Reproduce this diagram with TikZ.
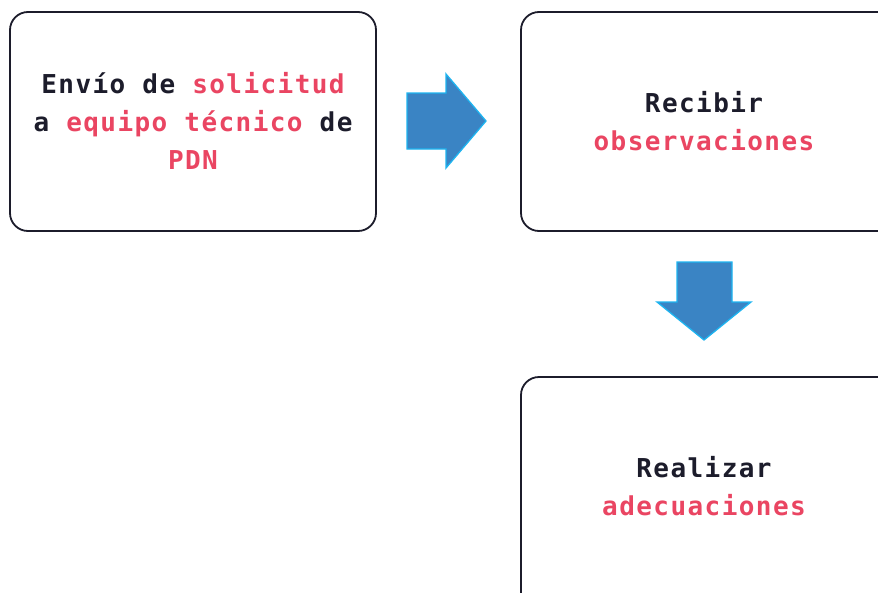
\documentclass[tikz,border=0pt]{standalone}
\usepackage{fontspec}
\newfontfamily\mono[LetterSpace=5.5]{DejaVu Sans Mono}
\definecolor{ink}{HTML}{1C1C2B}
\definecolor{rosa}{HTML}{EA4562}
\definecolor{afill}{HTML}{3A84C4}
\definecolor{aline}{HTML}{1EB4F0}
\tikzset{
  box/.style={draw=ink, line width=1.8pt, rounded corners=18pt, fill=white},
  lbl/.style={align=center, text=ink, font=\mono\bfseries\fontsize{26}{38}\selectfont},
  bigarrow/.style={fill=afill, draw=aline, line width=1.3pt, line join=miter},
}
\newcommand{\hl}[1]{\textcolor{rosa}{#1}}
\begin{document}
\begin{tikzpicture}[x=1pt,y=-1pt]
\useasboundingbox (0,0) rectangle (878,592);
\clip (0,0) rectangle (878,592);
\fill[white] (0,0) rectangle (878,592);
\draw[box] (10,12) rectangle (376,231);
\draw[box] (521,12) rectangle (900,231);
\draw[box] (521,377) rectangle (900,620);
\node[lbl] (t1) at (193,121) {Envío de \hl{solicitud}\\a \hl{equipo técnico} de\\\hl{PDN}};
\node[lbl] (t2) at (704,121) {Recibir\\\hl{observaciones}};
\node[lbl] (t3) at (704,486) {Realizar\\\hl{adecuaciones}};
\draw[bigarrow] (407,93) -- (446,93) -- (446,74) -- (486,121) -- (446,168) -- (446,149) -- (407,149) -- cycle;
\draw[bigarrow] (677,262) -- (732,262) -- (732,302) -- (751,302) -- (704,340) -- (657,302) -- (677,302) -- cycle;
\end{tikzpicture}
\end{document}
